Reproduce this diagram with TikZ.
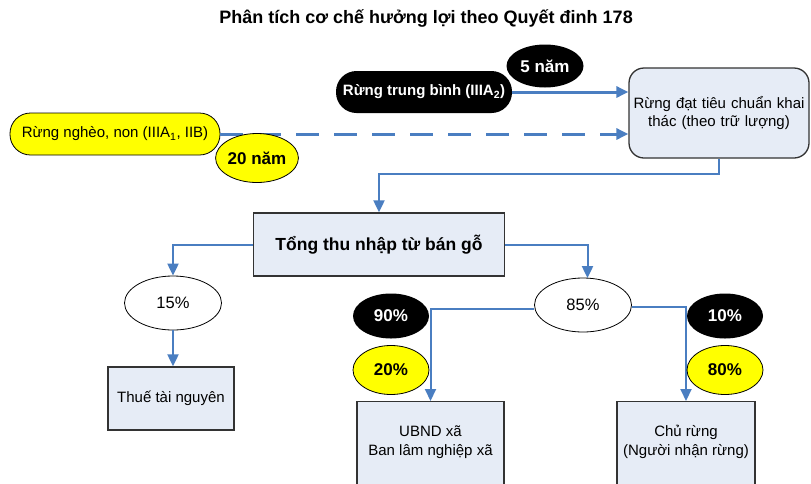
\documentclass[tikz,border=0pt]{standalone}
\usepackage{fontspec}
\setmainfont{Liberation Sans}
\usetikzlibrary{shapes.geometric,arrows.meta}
\definecolor{lineblue}{RGB}{74,126,193}
\definecolor{boxfill}{RGB}{230,236,246}
\definecolor{pillyellow}{RGB}{255,255,0}
\tikzset{
  conn/.style={draw=lineblue, line width=2pt, -{Triangle[length=12pt,width=11pt]}},
  thick conn/.style={conn, line width=3pt},
  dashconn/.style={thick conn, dash pattern=on 23pt off 15pt},
  yellowpill/.style={draw=black, line width=0.8pt, fill=pillyellow, rounded corners=20.5pt, inner sep=0pt, font=\fontsize{15}{17}\selectfont},
  blackpill/.style={fill=black, text=white, rounded corners=20.5pt, inner sep=0pt, font=\fontsize{15}{17}\selectfont\bfseries},
  blackoval/.style={ellipse, fill=black, text=white, inner sep=0pt, font=\fontsize{17}{19}\selectfont\bfseries},
  yellowoval/.style={ellipse, draw=black, line width=0.8pt, fill=pillyellow, inner sep=0pt, font=\fontsize{17}{19}\selectfont\bfseries},
  whiteoval/.style={ellipse, draw=black, line width=0.8pt, fill=white, inner sep=0pt, minimum width=97pt, minimum height=54pt, font=\fontsize{16.5}{18}\selectfont},
  bluebox/.style={draw=black!80, line width=1.3pt, fill=boxfill, inner sep=0pt, align=center, font=\fontsize{15}{18}\selectfont},
  plaintext/.style={inner sep=0pt, align=center, font=\fontsize{15}{19}\selectfont},
}
\begin{document}
\begin{tikzpicture}[x=1pt, y=-1pt]
\clip (0,0) rectangle (811,483);
\fill[white] (0,0) rectangle (811,483);

\node[inner sep=0pt, font=\fontsize{18}{20}\selectfont\bfseries] (title) at (426,18) {Phân tích cơ chế hưởng lợi theo Quyết đinh 178};

% top section
\node[bluebox, rounded corners=15pt, minimum width=180pt, minimum height=90pt, text width=172pt] (target) at (719,113) {Rừng đạt tiêu chuẩn khai thác (theo trữ lượng)};
\node[yellowpill, minimum width=210pt, minimum height=42pt] (poor) at (115,134) {Rừng nghèo, non (IIIA\textsubscript{1}, IIB)};
\node[blackpill, minimum width=176pt, minimum height=42pt] (medium) at (424,92) {Rừng trung bình (IIIA\textsubscript{2})};

\draw[thick conn] (medium.east) -- (medium.east -| target.west);
\draw[dashconn] (poor.east) -- (poor.east -| target.west);

\node[blackoval, minimum width=77pt, minimum height=43pt] (five) at (545,66) {5 năm};
\node[yellowoval, minimum width=76pt, minimum height=49pt] (twenty) at (257,158) {20 năm};

% total
\node[bluebox, minimum width=251pt, minimum height=63pt, font=\fontsize{17.5}{20}\selectfont\bfseries] (total) at (379,244.5) {Tổng thu nhập từ bán gỗ};
\draw[conn] (target.south) -- ++(0,15) -| (total.north);

% left branch
\node[whiteoval] (e15) at (173,303) {15\%};
\node[bluebox, minimum width=126pt, minimum height=63pt] (tax) at (171,398.5) {Thuế tài nguyên};
\draw[conn] (total.west) -| (e15.north);
\draw[conn] (e15.south) -- (e15.south |- tax.north);

% right branch
\node[whiteoval] (e85) at (583,305) {85\%};
\draw[conn] (total.east) -| ([xshift=4.5pt,yshift=-0.5pt]e85.north);

\node[bluebox, minimum width=147pt, minimum height=100pt, anchor=north] (ubnd) at (430.5,401) {};
\node[plaintext] (ubndtext) at (430.5,442) {UBND xã\\Ban lâm nghiệp xã};
\node[bluebox, minimum width=138pt, minimum height=100pt, anchor=north] (chu) at (686,401) {};
\node[plaintext] (chutext) at (686,442) {Chủ rừng\\(Người nhận rừng)};

\draw[conn] ([yshift=-4pt]e85.west) -| (ubnd.north);
\draw[conn] ([yshift=-2pt]e85.east) -| (chu.north);

\node[blackoval, minimum width=76pt, minimum height=45pt] (p90) at (391,316) {90\%};
\node[yellowoval, minimum width=76pt, minimum height=49pt] (p20) at (391,370) {20\%};
\node[blackoval, minimum width=76pt, minimum height=45pt] (p10) at (725,316) {10\%};
\node[yellowoval, minimum width=76pt, minimum height=49pt] (p80) at (725,370) {80\%};
\end{tikzpicture}
\end{document}
